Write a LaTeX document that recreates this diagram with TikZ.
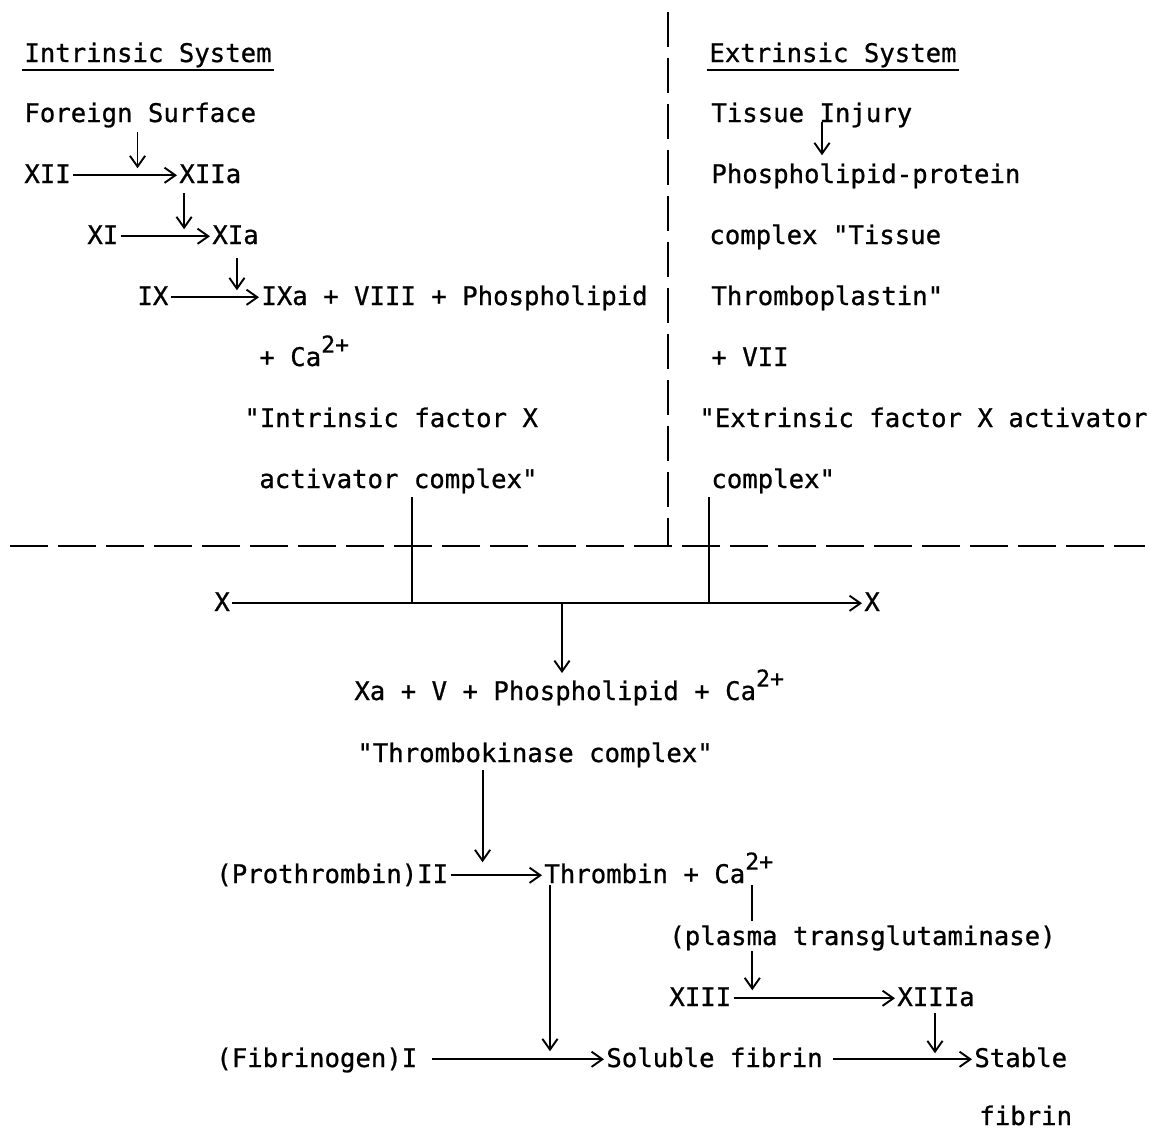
\documentclass[tikz,border=0pt]{standalone}
\usepackage{fontspec}
\newfontfamily\typefont[FakeBold=0.8]{DejaVu Sans Mono}
\usetikzlibrary{arrows.meta,calc}

\newcommand{\chargeup}[1]{\raisebox{9.5pt}{\fontsize{16.5}{16.5}\selectfont#1}}

\tikzset{
  txt/.style={font=\typefont\fontsize{18.25}{22}\selectfont, anchor=base west,
    inner xsep=1.5pt, inner ysep=0pt, text height=11pt, text depth=0pt},
  ln/.style={line width=1.35pt},
  arr/.style={ln, -{Straight Barb[length=2.7mm,width=3.8mm,line width=1.35pt]}},
  hdiv/.style={line width=1.4pt, dash pattern=on 0.95cm off 0.25cm},
  vdiv/.style={line width=1.4pt, dash pattern=on 0.875cm off 0.275cm}
}

\begin{document}
\begin{tikzpicture}[x=0.025cm, y=-0.025cm]
    \useasboundingbox (0,0) rectangle (1150,1131);

    % dividing lines
    \coordinate (dtop) at (668,12);
    \coordinate (dbot) at (668,546);
    \coordinate (hleft) at (10,546);
    \coordinate (hright) at (1145,546);
    \draw[vdiv] (dtop) -- (dbot);
    \draw[hdiv] (hleft) -- (hright);

    % intrinsic side
    \node[txt] (ins) at (22,62) {Intrinsic System};
    \draw[ln] ([yshift=-1.9mm]ins.base west) -- ([yshift=-1.9mm]ins.base east);
    \node[txt] (fs) at (22,122) {Foreign Surface};
    \node[txt] (xii) at (22,183) {XII};
    \node[txt] (xiia) at (177,183) {XIIa};
    \node[txt] (xi) at (85,244) {XI};
    \node[txt] (xia) at (210,244) {XIa};
    \node[txt] (ix) at (135,305) {IX};
    \node[txt] (ixa) at (259,305) {IXa + VIII + Phospholipid};
    \node[txt] (ica) at (257,366) {+ Ca\chargeup{2+}};
    \node[txt] (ifx) at (242,427) {"Intrinsic factor X};
    \node[txt] (iac) at (257,488) {activator complex"};

    \coordinate (c1) at ($(xii.east)!0.62!(xiia.west)+(0,-7)$);
    \coordinate (c2) at ($(xi.east)!0.71!(xia.west)+(0,-7)$);
    \coordinate (c3) at ($(ix.east)!0.75!(ixa.west)+(0,-7)$);
    \draw[arr] (xii) -- (xiia);
    \draw[arr] (xi) -- (xia);
    \draw[arr] (ix) -- (ixa);
    \draw[arr, shorten <=2.5mm] (fs.south -| c1) -- (c1);
    \draw[arr, shorten <=2.5mm] (xiia.south -| c2) -- (c2);
    \draw[arr, shorten <=3.5mm] (xia.south -| c3) -- (c3);

    % extrinsic side
    \node[txt] (exs) at (707,62) {Extrinsic System};
    \draw[ln] ([yshift=-1.9mm]exs.base west) -- ([yshift=-1.9mm]exs.base east);
    \node[txt] (ti) at (709,122) {Tissue Injury};
    \node[txt] (pp) at (709,183) {Phospholipid-protein};
    \node[txt] (cxt) at (707,244) {complex "Tissue};
    \node[txt] (tp) at (709,305) {Thromboplastin"};
    \node[txt] (vii) at (709,366) {+ VII};
    \node[txt] (efx) at (697,427) {"Extrinsic factor X activator};
    \node[txt] (eac) at (709,488) {complex"};

    \coordinate (c4) at (822,0);
    \draw[arr, shorten >=3mm] (ti.south -| c4) -- (pp.north -| c4);

    % common pathway
    \node[txt] (xl) at (212,611) {X};
    \node[txt] (xr) at (862,611) {X};
    \coordinate (jl) at (412,0);
    \coordinate (jr) at (709,0);
    \coordinate (jm) at (562,0);
    \draw[ln, shorten <=2.3mm] (iac.south -| jl) -- (jl |- xl);
    \draw[ln, shorten <=2.2mm] (eac.south -| jr) -- (jr |- xl);
    \draw[arr] (xl) -- (xr);

    \node[txt] (xa) at (352,700) {Xa + V + Phospholipid + Ca\chargeup{2+}};
    \node[txt] (tk) at (355,762) {"Thrombokinase complex"};
    \draw[arr, shorten >=2.8mm] (jm |- xl) -- (xa.north -| jm);

    \node[txt] (pt) at (214,883) {(Prothrombin)II};
    \node[txt] (th) at (542,883) {Thrombin + Ca\chargeup{2+}};
    \node[txt] (ptg) at (667,945) {(plasma transglutaminase)};
    \node[txt] (xiii) at (667,1006) {XIII};
    \node[txt] (xiiia) at (895,1006) {XIIIa};
    \node[txt] (fg) at (214,1067) {(Fibrinogen)I};
    \node[txt] (sf) at (604,1067) {Soluble fibrin};
    \node[txt] (st) at (972,1067) {Stable};
    \node[txt] (fb) at (977,1125) {fibrin};

    \coordinate (c5) at ($(pt.east)!0.35!(th.west)+(0,-13)$);
    \coordinate (c6) at ($(fg.east)!0.707!(sf.west)+(0,-8)$);
    \coordinate (c7) at ($(xiii.east)!0.116!(xiiia.west)+(0,-8)$);
    \coordinate (c8) at ($(sf.east)!0.748!(st.west)+(0,-6)$);

    \draw[arr] (pt) -- (th);
    \draw[arr, shorten <=2mm] (tk.south -| c5) -- (c5);
    \draw[arr, shorten <=0.5mm] (th.south -| c6) -- (c6);
    \draw[ln, shorten <=0.5mm, shorten >=2mm] (th.south -| c7) -- (ptg.north -| c7);
    \draw[arr, shorten <=1.5mm] (ptg.south -| c7) -- (c7);
    \draw[arr] (xiii) -- (xiiia);
    \draw[arr, shorten <=1.8mm] (xiiia.south -| c8) -- (c8);
    \draw[arr, shorten <=3mm] (fg) -- (sf);
    \draw[arr, shorten <=2mm] (sf) -- (st);
\end{tikzpicture}
\end{document}
